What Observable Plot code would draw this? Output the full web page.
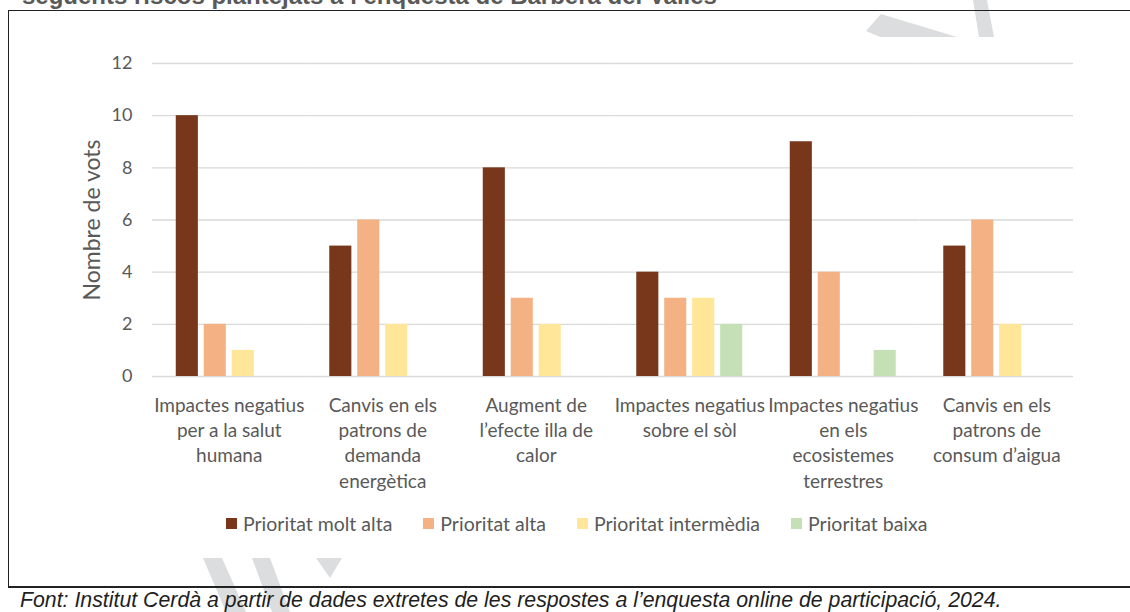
<!DOCTYPE html>
<html>
<head>
<meta charset="utf-8">
<script src="https://cdn.jsdelivr.net/npm/d3@7"></script>
<script src="https://cdn.jsdelivr.net/npm/@observablehq/plot@0.6"></script>
<style>
  html, body { margin: 0; padding: 0; background: #fff; }
  #page { position: relative; width: 1130px; height: 612px; overflow: hidden; background: #fff; }
  .abs { position: absolute; }
  #title { left: 22px; top: -18.5px; font: bold 24px "Liberation Sans", Arial, sans-serif; color: #595959; white-space: nowrap; line-height: 1.15; }
  #chartbg { left: 9px; top: 37px; width: 1121px; height: 521px; background: #fff; }
  #legend { left: 226px; top: 512px; display: flex; gap: 31px; font: 19.5px Lato, sans-serif; color: #595959; white-space: nowrap; }
  #legend .item { display: flex; align-items: center; gap: 6px; }
  #legend .sw { width: 11px; height: 11px; display: inline-block; }
  #caption { left: 20px; top: 590px; font: italic 21.3px "Liberation Sans", Arial, sans-serif; color: #1f1f1f; white-space: nowrap; line-height: 1; }
</style>
</head>
<body>
<div id="page">
  <svg class="abs" style="left:0;top:0" width="1130" height="612">
    <g fill="#dcddde">
      <polygon points="881,14 957,37 880,37 866,31"/>
      <polygon points="973,0 987,0 994,37 979,37"/>
      <polygon points="203,558 222,558 246,612 226,612"/>
      <polygon points="252,558 270,558 290,612 272,612"/>
      <polygon points="316,558 342,558 330,578"/>
    </g>
  </svg>
  <div id="title" class="abs">següents riscos plantejats a l’enquesta de Barberà del Vallès</div>
  <div id="chartbg" class="abs"></div>
  <div id="plot" class="abs" style="left:0;top:0"></div>
  <div id="legend" class="abs"></div>
  <div class="abs" style="left:8px;top:9.5px;width:1122px;height:1.6px;background:#222"></div>
  <div class="abs" style="left:7.5px;top:9.5px;width:1.8px;height:578px;background:#222"></div>
  <div class="abs" style="left:7.5px;top:585.5px;width:1123px;height:2.2px;background:#222"></div>
  <div id="caption" class="abs">Font: Institut Cerdà a partir de dades extretes de les respostes a l’enquesta online de participació, 2024.</div>
</div>
<script>
const categories = [
  "Impactes negatius per a la salut humana",
  "Canvis en els patrons de demanda energètica",
  "Augment de l’efecte illa de calor",
  "Impactes negatius sobre el sòl",
  "Impactes negatius en els ecosistemes terrestres",
  "Canvis en els patrons de consum d’aigua"
];
const categoryLabels = [
  "Impactes negatius\nper a la salut\nhumana",
  "Canvis en els\npatrons de\ndemanda\nenergètica",
  "Augment de\nl’efecte illa de\ncalor",
  "Impactes negatius\nsobre el sòl",
  "Impactes negatius\nen els\necosistemes\nterrestres",
  "Canvis en els\npatrons de\nconsum d’aigua"
];
const series = ["Prioritat molt alta", "Prioritat alta", "Prioritat intermèdia", "Prioritat baixa"];
const seriesColors = ["#78361a", "#f4b183", "#ffe699", "#c5e0b4"];
const prioritatMoltAlta = [10, 5, 8, 4, 9, 5];
const prioritatAlta = [2, 6, 3, 3, 4, 6];
const prioritatIntermedia = [1, 2, 2, 3, 0, 2];
const prioritatBaixa = [0, 0, 0, 2, 1, 0];
const yTicks = [0, 2, 4, 6, 8, 10, 12];
const yLabel = "Nombre de vots";

const seriesValues = [prioritatMoltAlta, prioritatAlta, prioritatIntermedia, prioritatBaixa];
const data = [];
categories.forEach((c, i) => {
  series.forEach((s, j) => {
    const v = seriesValues[j][i];
    if (v > 0) data.push({category: c, series: s, value: v});
  });
});
const labelOf = new Map(categories.map((c, i) => [c, categoryLabels[i]]));

const chart = Plot.plot({
  width: 1130,
  height: 476,
  marginLeft: 152,
  marginRight: 57,
  marginTop: 63,
  marginBottom: 100,
  style: {fontFamily: "Lato, sans-serif", color: "#595959", background: "transparent", overflow: "visible"},
  fx: {domain: categories, padding: 0, round: false},
  x: {domain: series, paddingInner: 0.21, paddingOuter: 0.85, round: false, axis: null},
  y: {domain: [0, 12]},
  color: {domain: series, range: seriesColors},
  marks: [
    Plot.gridY(yTicks, {stroke: "#d9d9d9", strokeOpacity: 1, strokeWidth: 1.3}),
    Plot.barY(data, {fx: "category", x: "series", y: "value", fill: "series"}),
    Plot.axisY(yTicks, {tickSize: 0, tickPadding: 20, fontSize: 18, label: null}),
    Plot.axisY([], {tickSize: 0, fontSize: 23, label: yLabel, labelAnchor: "center", labelArrow: "none", labelOffset: 69}),
    Plot.axisFx({anchor: "bottom", tickSize: 0, tickPadding: 18, fontSize: 19, lineHeight: 1.32, tickFormat: d => labelOf.get(d), label: null})
  ]
});
document.getElementById("plot").appendChild(chart);

const legend = document.getElementById("legend");
series.forEach((s, j) => {
  const item = document.createElement("div");
  item.className = "item";
  const sw = document.createElement("span");
  sw.className = "sw";
  sw.style.background = seriesColors[j];
  const t = document.createElement("span");
  t.textContent = s;
  item.appendChild(sw);
  item.appendChild(t);
  legend.appendChild(item);
});
</script>
</body>
</html>
